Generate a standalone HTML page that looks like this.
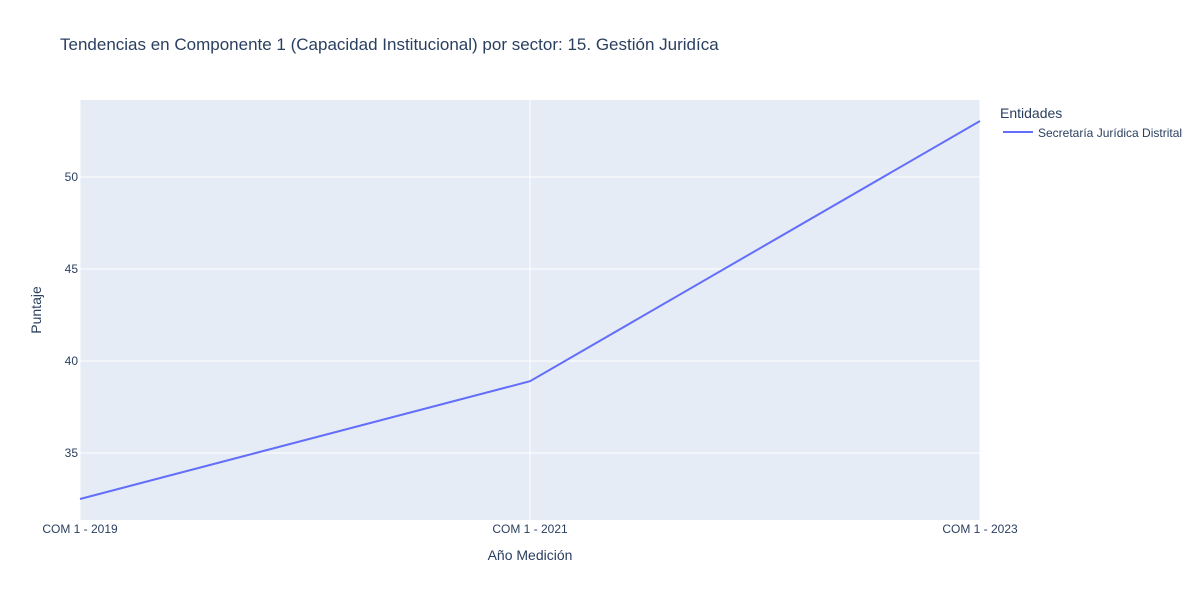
<!DOCTYPE html>
<html><head><meta charset="utf-8"><style>
body{margin:0;background:#fff;font-family:"Liberation Sans",Arial,sans-serif;}
</style></head><body>
<svg id="chart" width="1200" height="600" xmlns="http://www.w3.org/2000/svg" font-family="Liberation Sans, Arial, sans-serif">
<rect width="1200" height="600" fill="#fff"/>
<text x="60" y="50" font-size="17" fill="#2a3f5f">Tendencias en Componente 1 (Capacidad Institucional) por sector: 15. Gestión Juridíca</text>
<rect x="80" y="100" width="900" height="420" fill="#e5ecf6"/>
<g id="grid"></g>
<g id="series"></g>
<g id="axes"></g>
<text x="530" y="560" font-size="14" fill="#2a3f5f" text-anchor="middle">Año Medición</text>
<text transform="translate(41,310) rotate(-90)" font-size="14" fill="#2a3f5f" text-anchor="middle">Puntaje</text>
<text x="1000" y="118" font-size="14" fill="#2a3f5f">Entidades</text>
<g>
<line x1="1003" y1="132" x2="1033" y2="132" stroke="#636efa" stroke-width="2"/>
<text x="1038" y="137" font-size="12" fill="#2a3f5f">Secretaría Jurídica Distrital</text>
</g>
</svg>
<script>
const categories=["COM 1 - 2019","COM 1 - 2021","COM 1 - 2023"];
const values=[32.5,38.9,53.04];
const yTicks=[35,40,45,50];
const NS="http://www.w3.org/2000/svg";
const L=80,R=980,T=100,B=520;
const mn=Math.min(...values),mx=Math.max(...values),pad=(mx-mn)*0.0556;
const y0=mn-pad,y1=mx+pad;
const xs=i=>L+(R-L)*i/(categories.length-1);
const ys=v=>B-(v-y0)/(y1-y0)*(B-T);
function mk(t,a,p){const e=document.createElementNS(NS,t);for(const k in a)e.setAttribute(k,a[k]);p.appendChild(e);return e;}
const grid=document.getElementById('grid'),axes=document.getElementById('axes'),ser=document.getElementById('series');
yTicks.forEach(v=>{const g=mk('line',{x1:L,x2:R,y1:ys(v),y2:ys(v),stroke:'#fff','stroke-width':1},grid);

const t=mk('text',{x:L-2,y:ys(v)+4,'font-size':12,fill:'#2a3f5f','text-anchor':'end'},axes);t.textContent=v;
});
categories.forEach((c,i)=>{const g=mk('line',{x1:xs(i),x2:xs(i),y1:T,y2:B,stroke:'#fff','stroke-width':1},grid);

const t=mk('text',{x:xs(i),y:533,'font-size':12,fill:'#2a3f5f','text-anchor':'middle'},axes);t.textContent=c;
});
const p=mk('polyline',{points:values.map((v,i)=>xs(i)+','+ys(v)).join(' '),fill:'none',stroke:'#636efa','stroke-width':2},ser);


</script>
</body></html>
